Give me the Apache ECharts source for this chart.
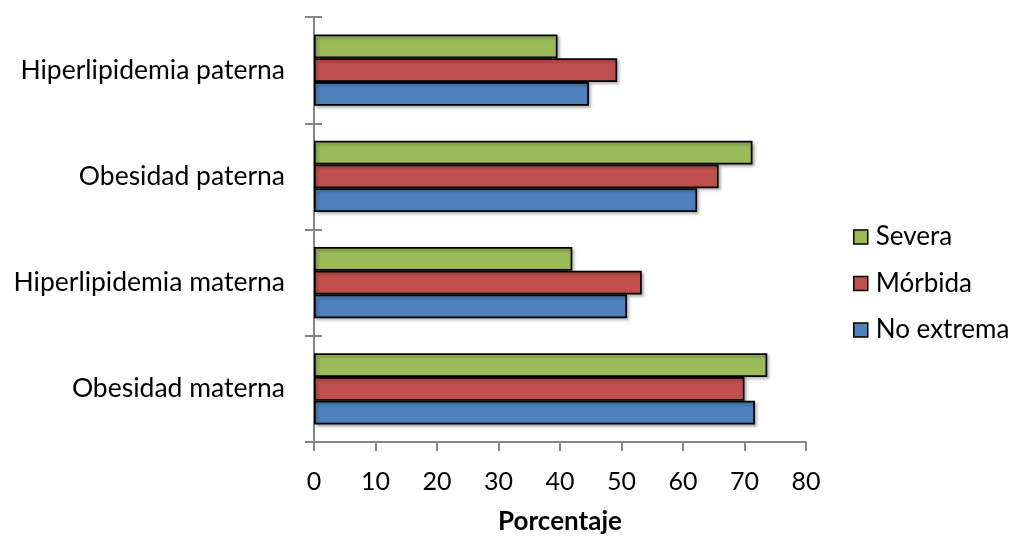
<!DOCTYPE html>
<html>
<head>
<meta charset="utf-8">
<script src="https://cdn.jsdelivr.net/npm/echarts@6/dist/echarts.min.js"></script>
<style>
html,body{margin:0;padding:0;background:#fff;}
#chart{width:1032px;height:540px;}
</style>
</head>
<body>
<div id="chart"></div>
<script>
// Categories, bottom to top
var categories = ['Obesidad materna', 'Hiperlipidemia materna', 'Obesidad paterna', 'Hiperlipidemia paterna'];
var seriesNames = ['Severa', 'Mórbida', 'No extrema'];
var severa = [73.7, 42.0, 71.3, 39.6];
var morbida = [70.0, 53.3, 65.8, 49.3];
var noExtrema = [71.7, 50.9, 62.3, 44.7];
var xTicks = [0, 10, 20, 30, 40, 50, 60, 70, 80];
var axisTitle = 'Porcentaje';

var colors = ['#9BBB59', '#C0504D', '#4F81BD'];
var FONT = 'Lato';

var chart = echarts.init(document.getElementById('chart'));

function barSeries(name, data, color) {
  return {
    name: name,
    type: 'bar',
    data: data,
    barGap: '0%',
    barCategoryGap: '33%',
    itemStyle: {
      color: color,
      borderColor: '#000',
      borderWidth: 1.7,
      shadowColor: 'rgba(0,0,0,0.3)',
      shadowBlur: 3,
      shadowOffsetX: 2,
      shadowOffsetY: 2
    }
  };
}

var option = {
  animation: false,
  backgroundColor: '#fff',
  textStyle: { fontFamily: FONT, color: '#000' },
  grid: { left: 314, right: 226, top: 17, bottom: 91, containLabel: false },
  legend: {
    orient: 'vertical',
    left: 853,
    top: 224,
    padding: 0,
    data: seriesNames,
    icon: 'rect',
    itemWidth: 14,
    itemHeight: 14,
    itemGap: 20.5,
    itemStyle: { borderColor: '#000', borderWidth: 1.5, shadowBlur: 0, shadowOffsetX: 0, shadowOffsetY: 0 },
    textStyle: { fontFamily: FONT, fontSize: 26, color: '#000', lineHeight: 26, padding: [0, 0, 0, 3] }
  },
  xAxis: {
    type: 'value',
    min: xTicks[0],
    max: xTicks[xTicks.length - 1],
    interval: xTicks[1] - xTicks[0],
    name: axisTitle,
    nameLocation: 'middle',
    nameGap: 67,
    nameTextStyle: { fontFamily: FONT, fontSize: 26, fontWeight: 'bold', color: '#000' },
    axisLine: { show: true, lineStyle: { color: '#878787', width: 2 } },
    axisTick: { show: true, inside: false, length: 9, lineStyle: { color: '#878787', width: 2 } },
    axisLabel: { fontFamily: FONT, fontSize: 25, color: '#000', margin: 27 },
    splitLine: { show: false }
  },
  yAxis: [{
    type: 'category',
    data: categories,
    axisLine: { show: true, lineStyle: { color: '#878787', width: 2 } },
    axisTick: { show: true, inside: false, length: 9, lineStyle: { color: '#878787', width: 2 } },
    axisLabel: { fontFamily: FONT, fontSize: 26.5, color: '#000', margin: 29, padding: [4, 0, 0, 0] },
    splitLine: { show: false }
  }, {
    type: 'category',
    data: categories,
    position: 'left',
    offset: 0,
    axisLine: { show: false },
    axisTick: { show: true, inside: true, length: 8, lineStyle: { color: '#878787', width: 2 } },
    axisLabel: { show: false },
    splitLine: { show: false }
  }],
  series: [
    barSeries(seriesNames[0], severa, colors[0]),
    barSeries(seriesNames[1], morbida, colors[1]),
    barSeries(seriesNames[2], noExtrema, colors[2])
  ]
};
chart.setOption(option);
</script>
</body>
</html>
